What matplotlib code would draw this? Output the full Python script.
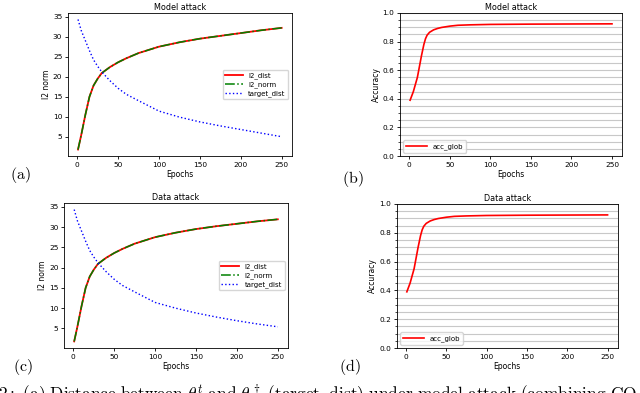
import matplotlib
matplotlib.use("Agg")
import matplotlib.pyplot as plt
from matplotlib.ticker import MultipleLocator

plt.rcParams['mathtext.fontset'] = 'cm'

ep = [1, 5, 10, 15, 20, 25, 30, 40, 50, 60, 75, 100, 125, 150, 175, 200, 225, 250]

# model attack
l2_model = [1.8, 5.5, 10.5, 15.0, 17.8, 19.5, 20.9, 22.4, 23.6, 24.6, 25.9, 27.5,
            28.6, 29.5, 30.2, 30.9, 31.6, 32.2]
tgt_model = [34.3, 31.5, 29.0, 26.5, 24.2, 22.6, 21.2, 19.0, 17.1, 15.6, 14.0, 11.4,
             9.9, 8.7, 7.7, 6.8, 5.9, 5.0]
# data attack
l2_data = [1.8, 5.5, 10.5, 15.0, 17.8, 19.5, 20.9, 22.4, 23.6, 24.6, 25.9, 27.5,
           28.6, 29.5, 30.2, 30.8, 31.4, 31.9]
tgt_data = [34.3, 31.5, 29.0, 26.5, 24.2, 22.6, 21.2, 19.0, 17.1, 15.6, 14.0, 11.4,
            10.0, 8.8, 7.8, 6.9, 6.1, 5.4]

acc_ep = [1, 5, 10, 15, 18, 20, 22, 25, 30, 35, 40, 50, 60, 75, 100, 150, 200, 250]
acc_model = [0.39, 0.45, 0.55, 0.70, 0.78, 0.82, 0.845, 0.865, 0.882, 0.892, 0.899,
             0.908, 0.914, 0.917, 0.92, 0.922, 0.923, 0.924]
acc_data = [0.39, 0.45, 0.55, 0.70, 0.78, 0.82, 0.845, 0.865, 0.882, 0.892, 0.899,
            0.908, 0.914, 0.917, 0.92, 0.922, 0.923, 0.924]

fig = plt.figure(figsize=(6.4, 3.93), dpi=100)

ax_a = fig.add_axes([0.106, 0.603, 0.35, 0.364])
ax_b = fig.add_axes([0.625, 0.603, 0.347, 0.364])
ax_c = fig.add_axes([0.100, 0.1145, 0.35, 0.369])
ax_d = fig.add_axes([0.620, 0.1145, 0.345, 0.3665])

TICK = 5.3
LAB = 5.5


def dist_panel(ax, l2, tgt, title):
    ax.plot(ep, l2, color='red', lw=1.3, label='l2_dist')
    ax.plot(ep, l2, color='green', lw=1.1, ls='-.', label='l2_norm')
    ax.plot(ep, tgt, color='blue', lw=1.0, ls=':', label='target_dist')
    ax.set_xticks([0, 50, 100, 150, 200, 250])
    ax.set_yticks([5, 10, 15, 20, 25, 30, 35])
    ax.tick_params(labelsize=TICK, length=2.5, width=0.6, pad=1.5)
    ax.set_xlabel('Epochs', fontsize=LAB, labelpad=1.5)
    ax.set_ylabel('l2 norm', fontsize=LAB, labelpad=1.5)
    ax.set_title(title, fontsize=5.8, pad=2)
    ax.legend(loc='center right', fontsize=5, handlelength=2.5, borderpad=0.4,
              labelspacing=0.3)
    for s in ax.spines.values():
        s.set_linewidth(0.6)


def acc_panel(ax, acc, title):
    ax.plot(acc_ep, acc, color='red', lw=1.2, label='acc_glob')
    ax.set_ylim(0, 1.0)
    ax.set_xticks([0, 50, 100, 150, 200, 250])
    ax.set_yticks([0.0, 0.2, 0.4, 0.6, 0.8, 1.0])
    ax.yaxis.set_minor_locator(MultipleLocator(0.05))
    ax.grid(True, which='both', axis='y', color='#c8c8c8', lw=0.8)
    ax.tick_params(labelsize=TICK, length=2.5, width=0.6, pad=1.5)
    ax.tick_params(which='minor', length=1.2, width=0.5)
    ax.set_xlabel('Epochs', fontsize=LAB, labelpad=1.5)
    ax.set_ylabel('Accuracy', fontsize=LAB, labelpad=1.5)
    ax.set_title(title, fontsize=5.8, pad=2)
    ax.legend(loc='lower left', fontsize=5, handlelength=3, borderpad=0.4)
    for s in ax.spines.values():
        s.set_linewidth(0.6)


dist_panel(ax_a, l2_model, tgt_model, 'Model attack')
acc_panel(ax_b, acc_model, 'Model attack')
dist_panel(ax_c, l2_data, tgt_data, 'Data attack')
acc_panel(ax_d, acc_data, 'Data attack')

# sub-figure labels
fig.text(0.016, 0.545, r'$\mathrm{(a)}$', fontsize=11.5)
fig.text(0.535, 0.535, r'$\mathrm{(b)}$', fontsize=11.5)
fig.text(0.020, 0.055, r'$\mathrm{(c)}$', fontsize=11.5)
fig.text(0.530, 0.055, r'$\mathrm{(d)}$', fontsize=11.5)

# caption, cut off by the bottom edge as in the source page
fig.text(-0.003, -0.016,
         r'$\mathrm{2:\ (a)\ Distance\ between}\ \theta^t\ \mathrm{and}\ \theta^\dagger'
         r'\ \mathrm{(target\_dist)\ under\ model\ attack\ (combining\ CO}$',
         fontsize=12.5, va='baseline')

fig.savefig('out.png', dpi=100)
